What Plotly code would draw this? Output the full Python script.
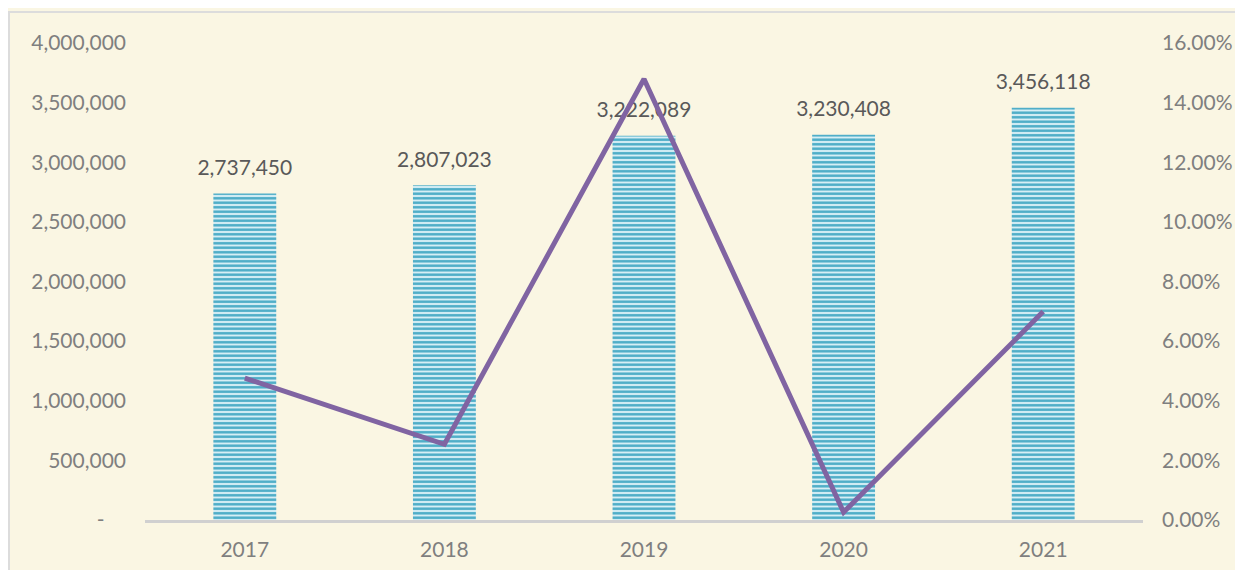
import plotly.graph_objects as go

years = ["2017", "2018", "2019", "2020", "2021"]
values = [2737450, 2807023, 3222089, 3230408, 3456118]
growth = [4.76, 2.54, 14.79, 0.26, 6.99]
value_labels = ["2,737,450", "2,807,023", "3,222,089", "3,230,408", "3,456,118"]
left_ticks = [0, 500000, 1000000, 1500000, 2000000, 2500000, 3000000, 3500000, 4000000]
left_ticktext = ["-\u00a0\u00a0\u00a0\u00a0", "500,000", "1,000,000", "1,500,000", "2,000,000",
                 "2,500,000", "3,000,000", "3,500,000", "4,000,000"]
right_ticks = [0, 2, 4, 6, 8, 10, 12, 14, 16]
right_ticktext = ["0.00%", "2.00%", "4.00%", "6.00%", "8.00%", "10.00%", "12.00%", "14.00%", "16.00%"]

BG = "#FAF6E3"
FONT = "Lato"
FS = 21

fig = go.Figure()
fig.add_trace(go.Bar(
    x=years, y=values, width=0.315,
    marker=dict(color="#4BACC6", line=dict(width=0),
                pattern=dict(shape="-", fgcolor="#4BACC6", bgcolor="#D6EEF5",
                             size=4.5, solidity=0.55, fillmode="replace")),
    showlegend=False, hoverinfo="skip"))
fig.add_trace(go.Scatter(
    x=years, y=values, mode="markers+text", text=value_labels,
    textposition="top center",
    marker=dict(size=20, opacity=0),
    textfont=dict(family=FONT, size=FS, color="#595959"),
    showlegend=False, hoverinfo="skip"))
fig.add_trace(go.Scatter(
    x=years, y=growth, yaxis="y2", mode="lines",
    line=dict(color="#8064A2", width=5),
    showlegend=False, hoverinfo="skip"))

fig.update_layout(
    width=1243, height=570,
    margin=dict(l=137, r=108, t=35, b=58, autoexpand=False),
    paper_bgcolor=BG, plot_bgcolor=BG,
    font=dict(family=FONT, size=FS, color="#7F7F7F"),
    xaxis=dict(showgrid=False, showline=True, linecolor="#D0D0D0", linewidth=3,
               ticks="", tickfont=dict(size=FS, color="#7F7F7F"), ticklabelstandoff=9,
               zeroline=False, automargin=False),
    yaxis=dict(range=[0, 4000000], tickvals=left_ticks, ticktext=left_ticktext,
               showgrid=False, zeroline=False, showline=False, ticks="",
               ticklabelstandoff=18, tickfont=dict(size=FS, color="#7F7F7F"),
               automargin=False),
    yaxis2=dict(range=[0, 16], tickvals=right_ticks, ticktext=right_ticktext,
                overlaying="y", side="right", showgrid=False, zeroline=False,
                showline=False, ticks="", ticklabelstandoff=18,
                tickfont=dict(size=FS, color="#7F7F7F"), automargin=False),
    shapes=[dict(type="rect", xref="paper", yref="paper",
                 x0=-0.1363, x1=2, y0=-2, y1=1.065,
                 line=dict(color="#DCDCDC", width=2), fillcolor="rgba(0,0,0,0)",
                 layer="below")],
)

fig.write_html("out.html")
